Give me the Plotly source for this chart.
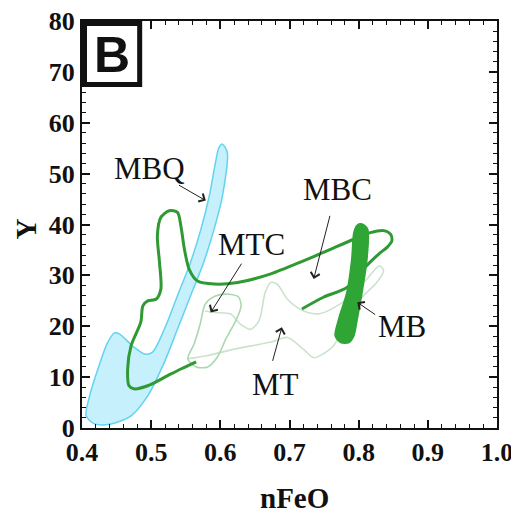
import plotly.graph_objects as go

# ---------------- data ----------------
mbq_x = [0.603, 0.610, 0.603, 0.591, 0.576, 0.557, 0.538, 0.519, 0.495, 0.471, 0.442, 0.418,
         0.406, 0.411, 0.423, 0.437, 0.447, 0.454, 0.475, 0.492, 0.502, 0.519, 0.538, 0.557,
         0.572, 0.584, 0.593, 0.598, 0.603]
mbq_y = [55.8, 54.2, 45.6, 39.1, 32.6, 26.0, 19.4, 12.9, 6.3, 2.4, 0.8, 0.8,
         2.4, 6.3, 11.6, 16.8, 18.7, 18.5, 15.9, 14.5, 14.9, 19.4, 26.0, 32.6,
         39.1, 45.6, 52.2, 55.1, 55.8]

mbc_x = [0.718, 0.749, 0.783, 0.805, 0.829, 0.841, 0.848, 0.846, 0.836, 0.817, 0.793, 0.749,
         0.721, 0.673, 0.625, 0.591, 0.567, 0.555, 0.548, 0.543, 0.538, 0.526, 0.514, 0.509,
         0.512, 0.514, 0.507, 0.495, 0.488, 0.485, 0.471, 0.466, 0.468, 0.475, 0.495, 0.524,
         0.543, 0.565]
mbc_y = [23.4, 25.7, 27.6, 31.0, 34.2, 35.5, 36.8, 38.1, 38.8, 38.4, 37.1, 34.5,
         32.9, 30.3, 28.6, 28.3, 28.9, 31.2, 35.2, 39.7, 42.4, 42.7, 41.4, 37.8,
         32.6, 27.3, 25.3, 25.0, 24.0, 20.8, 16.2, 11.6, 8.3, 7.7, 8.3, 10.3,
         11.6, 13.0]

mb_x = [0.805, 0.813, 0.812, 0.805, 0.798, 0.793, 0.786, 0.774, 0.766, 0.771, 0.783, 0.790,
        0.793, 0.798, 0.805]
mb_y = [40.1, 39.1, 33.2, 26.7, 21.4, 18.1, 16.8, 16.8, 18.1, 21.4, 26.7, 33.2,
        38.4, 39.9, 40.1]

mtc_x = [0.553, 0.562, 0.571, 0.578, 0.592, 0.611, 0.626, 0.630, 0.622, 0.608, 0.596, 0.582,
         0.565, 0.553]
mtc_y = [13.6, 16.5, 20.5, 24.3, 25.9, 26.3, 25.8, 24.0, 21.0, 17.5, 14.0, 12.0,
         12.0, 13.6]

mt_x = [0.578, 0.592, 0.615, 0.629, 0.644, 0.656, 0.665, 0.673, 0.682, 0.697, 0.711, 0.726,
        0.745, 0.780, 0.810, 0.830, 0.836, 0.826, 0.800, 0.783, 0.764, 0.749, 0.735, 0.720,
        0.697, 0.673, 0.620, 0.580, 0.553]
mt_y = [23.0, 22.7, 22.4, 20.4, 19.4, 21.1, 26.7, 28.6, 28.3, 25.3, 23.7, 22.7,
        22.5, 25.0, 29.0, 31.9, 30.9, 28.6, 25.0, 21.4, 16.2, 14.6, 13.8, 15.5,
        17.8, 16.9, 15.5, 14.2, 13.6]

label_text = ["MBQ", "MTC", "MBC", "MB", "MT"]
label_x = [0.498, 0.645, 0.769, 0.863, 0.680]
label_y = [51.1, 36.0, 46.8, 19.9, 8.6]
arrow_tail_x = [0.538, 0.632, 0.759, 0.826, 0.675]
arrow_tail_y = [47.9, 32.6, 42.0, 22.1, 12.9]
arrow_head_x = [0.579, 0.586, 0.735, 0.798, 0.689]
arrow_head_y = [44.7, 22.7, 29.3, 24.7, 19.8]

x_ticks = [0.4, 0.5, 0.6, 0.7, 0.8, 0.9, 1.0]
x_ticktext = ["0.4", "0.5", "0.6", "0.7", "0.8", "0.9", "1.0"]
y_ticks = [0, 10, 20, 30, 40, 50, 60, 70, 80]
x_title = "nFeO"
y_title = "Y"

# ---------------- figure ----------------
fig = go.Figure()

fig.add_trace(go.Scatter(x=mbq_x, y=mbq_y, mode="lines", fill="toself",
                         fillcolor="#c6f0fb", line=dict(color="#62d3f0", width=1.5,
                         shape="spline", smoothing=0.8), hoverinfo="skip", name="MBQ"))
fig.add_trace(go.Scatter(x=mt_x, y=mt_y, mode="lines",
                         line=dict(color="#cbe3ce", width=1.6, shape="spline", smoothing=0.8),
                         hoverinfo="skip", name="MT"))
fig.add_trace(go.Scatter(x=mtc_x, y=mtc_y, mode="lines",
                         line=dict(color="#a9d8ae", width=1.6, shape="spline", smoothing=0.8),
                         hoverinfo="skip", name="MTC"))
fig.add_trace(go.Scatter(x=mbc_x, y=mbc_y, mode="lines",
                         line=dict(color="#2f9a33", width=3, shape="spline", smoothing=0.8),
                         hoverinfo="skip", name="MBC"))
fig.add_trace(go.Scatter(x=mb_x, y=mb_y, mode="lines", fill="toself",
                         fillcolor="#2ea535", line=dict(color="#2ea535", width=1.5,
                         shape="spline", smoothing=0.8), hoverinfo="skip", name="MB"))

serif = "Liberation Serif"
annotations = []
for t, lx, ly in zip(label_text, label_x, label_y):
    annotations.append(dict(x=lx, y=ly, xref="x", yref="y", text=t, showarrow=False,
                            font=dict(family=serif, size=31, color="#111111")))
for tx, ty, hx, hy in zip(arrow_tail_x, arrow_tail_y, arrow_head_x, arrow_head_y):
    annotations.append(dict(x=hx, y=hy, ax=tx, ay=ty, xref="x", yref="y", axref="x", ayref="y",
                            text="", showarrow=True, arrowhead=4, arrowsize=1.8,
                            arrowwidth=1, arrowcolor="#222222"))
annotations.append(dict(x=0.4435, y=73.4, xref="x", yref="y", text="<b>B</b>", showarrow=False,
                        font=dict(family="Liberation Sans", size=50, color="#111111")))
# axis titles
annotations.append(dict(x=0.707, y=0, xref="x", yref="paper", yanchor="middle", yshift=-70,
                        text="<b>%s</b>" % x_title, showarrow=False,
                        font=dict(family=serif, size=29, color="#111111")))
annotations.append(dict(x=0, y=39, xref="paper", yref="y", xanchor="center", xshift=-56,
                        text="<b>%s</b>" % y_title, showarrow=False, textangle=-90,
                        font=dict(family=serif, size=29, color="#111111")))

fig.add_shape(type="rect", xref="x", yref="y", x0=0.4036, x1=0.4834, y0=67.5, y1=79.5,
              line=dict(color="#111111", width=5), fillcolor="white")

axis_common = dict(showline=True, linecolor="#111111", linewidth=2, mirror="allticks",
                   ticks="inside", ticklen=8, tickwidth=1.5, tickcolor="#111111",
                   showgrid=False, zeroline=False, automargin=False,
                   ticklabeloverflow="allow",
                   tickfont=dict(family=serif, size=26, color="#111111", weight="bold"))

# page body has an 8px default margin, so the figure is sized to fit inside it
fig.update_layout(
    width=511, height=508,
    margin=dict(l=74, r=22, t=13, b=87.5),
    paper_bgcolor="white", plot_bgcolor="white",
    showlegend=False,
    annotations=annotations,
    xaxis=dict(range=[0.4, 1.0], tickvals=x_ticks, ticktext=x_ticktext,
               minor=dict(ticks="inside", ticklen=4, dtick=0.02, tickwidth=1.2, tickcolor="#111111"),
               **axis_common),
    yaxis=dict(range=[0, 80], tickvals=y_ticks,
               minor=dict(ticks="inside", ticklen=4, dtick=2, tickwidth=1.2, tickcolor="#111111"),
               **axis_common),
)

fig.write_html("out.html")
